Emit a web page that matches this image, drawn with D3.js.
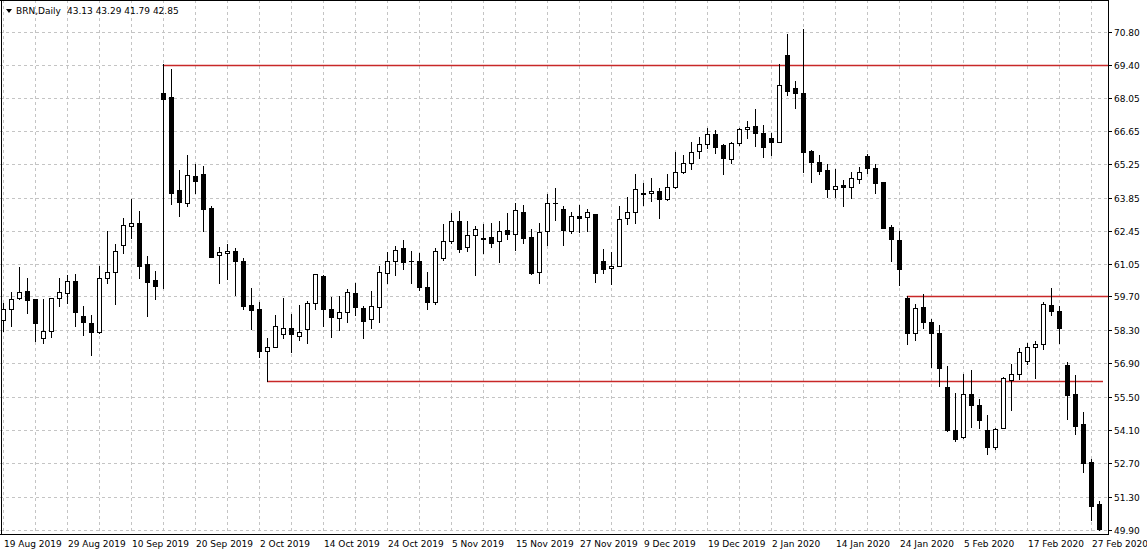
<!DOCTYPE html>
<html>
<head>
<meta charset="utf-8">
<script src="https://cdn.jsdelivr.net/npm/d3@7"></script>
<style>
html,body{margin:0;padding:0;background:#fff;}
svg{display:block;}
text{font-family:"DejaVu Sans",Verdana,sans-serif;font-size:9px;fill:#000;}
</style>
</head>
<body>
<svg id="chart" width="1147" height="554"></svg>
<script>
// ---- data (BRN, Daily) ----
const openV = [58.72,59.19,59.65,59.91,59.58,57.94,58.24,59.65,59.85,60.37,
58.87,58.57,58.20,60.47,60.73,61.86,62.66,62.79,61.07,60.40,
68.24,68.09,64.16,63.63,64.76,64.84,63.40,61.43,61.51,61.61,
61.18,59.35,59.16,57.43,57.60,58.11,58.37,58.06,58.32,59.44,
60.56,59.18,58.79,59.04,59.83,59.20,58.74,59.27,60.67,61.19,
61.72,61.20,61.19,60.09,59.46,61.33,62.04,62.86,61.76,62.27,
62.14,62.18,62.03,62.49,62.31,63.25,62.18,60.72,62.44,63.61,
63.36,62.45,63.08,63.02,63.16,61.19,60.88,60.98,62.98,63.23,
64.02,64.03,64.13,63.78,64.31,64.94,65.29,65.82,66.10,66.51,
66.06,65.46,66.16,66.72,66.86,66.55,66.37,66.20,69.84,68.44,
68.23,65.82,65.33,65.01,64.20,64.38,64.28,64.62,65.60,65.08,
64.49,62.60,62.07,59.65,58.18,59.27,58.64,58.18,55.91,54.09,
53.81,55.59,55.13,54.09,53.38,54.16,56.20,56.43,56.99,57.58,
57.70,59.35,59.07,56.81,55.61,54.34,52.75,51.00];
const highV = [59.43,59.88,60.92,60.47,59.60,59.61,59.65,60.47,60.62,60.65,
59.28,58.91,60.99,62.44,61.89,63.00,63.78,63.27,61.41,60.77,
69.45,69.25,65.01,65.64,65.26,65.18,63.50,61.77,61.89,61.72,
61.30,60.07,59.46,57.95,58.93,59.65,58.95,59.35,59.51,60.65,
60.60,59.67,59.70,60.00,60.28,59.30,59.95,61.00,61.58,61.82,
62.07,61.61,61.51,60.74,61.75,62.73,63.19,63.29,62.87,62.66,
62.74,62.80,62.87,63.19,63.64,63.56,62.52,62.80,64.00,64.25,
63.50,63.26,63.54,63.36,63.17,61.70,61.58,63.50,63.86,64.84,
64.48,64.66,64.24,64.83,65.75,65.64,66.20,66.38,66.76,66.69,
66.10,66.17,66.79,67.07,67.57,66.90,66.55,69.44,70.70,68.74,
70.91,65.84,65.64,65.26,65.05,64.59,64.94,65.12,65.68,65.26,
64.50,62.70,62.46,59.72,59.37,59.81,58.74,58.50,56.78,55.63,
56.46,56.60,55.41,54.71,54.17,56.31,56.88,57.54,57.73,57.85,
59.46,60.05,59.28,56.95,56.41,54.84,52.86,51.10];
const lowV = [58.24,58.46,59.58,59.01,57.82,57.75,58.02,59.28,59.43,58.46,
58.09,57.23,58.17,60.25,59.40,61.54,62.14,60.47,58.87,59.58,
60.06,63.57,63.08,63.48,64.03,62.45,61.35,60.28,60.44,59.76,
59.16,58.34,57.18,56.15,57.58,57.97,57.35,57.88,57.74,59.16,
58.46,57.99,58.30,58.62,58.93,57.95,58.39,58.62,60.25,60.60,
60.86,60.28,59.97,59.16,59.37,61.23,61.93,61.55,61.62,60.60,
61.54,61.79,61.16,62.12,61.65,61.93,60.65,60.25,61.86,62.91,
61.86,62.35,62.42,62.45,60.32,60.70,60.23,60.96,62.73,62.80,
63.54,63.72,62.98,63.76,64.27,64.87,65.05,65.53,65.95,65.71,
64.83,65.32,66.06,66.34,66.02,65.57,65.64,66.18,68.16,67.62,
64.91,64.52,64.83,63.89,63.89,63.51,63.85,64.45,64.90,64.03,
62.56,61.20,60.18,57.69,57.86,58.39,56.74,55.94,54.05,53.63,
53.77,54.22,54.16,53.10,53.28,54.16,54.95,56.22,56.85,56.29,
57.51,58.92,57.73,54.55,53.92,52.33,50.32,49.90];
const closeV = [59.16,59.61,59.88,59.55,58.57,58.24,59.62,59.88,60.37,59.03,
58.61,58.21,60.47,60.73,61.62,62.70,62.78,60.99,60.32,60.13,
67.99,64.04,63.67,64.79,64.56,63.39,61.37,61.55,61.61,61.18,
59.32,59.15,57.43,57.60,58.46,58.37,58.11,58.23,59.42,60.63,
59.16,58.83,59.04,59.90,59.25,58.69,59.32,60.72,61.19,61.65,
61.16,61.18,60.11,59.46,61.61,62.04,62.88,61.71,62.27,62.55,
62.10,61.96,62.46,62.31,63.33,62.17,60.67,62.41,63.61,63.63,
62.49,63.08,63.01,63.23,60.70,60.86,60.98,62.95,63.23,64.20,
64.04,64.13,63.78,64.28,64.93,65.29,65.78,66.09,66.51,65.99,
65.53,66.13,66.73,66.80,66.58,65.99,66.20,68.56,68.34,68.25,
65.78,65.36,64.98,64.20,64.35,64.28,64.66,64.94,65.11,64.45,
62.59,62.10,60.84,58.18,59.23,58.64,58.18,56.71,54.09,53.74,
55.62,55.14,54.51,53.38,54.15,56.29,56.43,57.37,57.58,57.71,
59.38,59.07,58.36,55.57,54.27,52.72,50.92,49.93];

// date labels, one every 8 bars starting at bar 0
const dateLabels = ["19 Aug 2019","29 Aug 2019","10 Sep 2019","20 Sep 2019","2 Oct 2019",
"14 Oct 2019","24 Oct 2019","5 Nov 2019","15 Nov 2019","27 Nov 2019","9 Dec 2019",
"19 Dec 2019","2 Jan 2020","14 Jan 2020","24 Jan 2020","5 Feb 2020","17 Feb 2020","27 Feb 2020"];
const dateLabelBars = [0,8,16,24,32,40,48,56,64,72,80,88,96,104,112,120,128,136];

// price axis labels
const priceTicks = [70.80,69.40,68.05,66.65,65.25,63.85,62.45,61.05,59.70,58.30,56.90,55.50,54.10,52.70,51.30,49.90];

// horizontal level lines (red)
const levelPrices = [69.40, 56.17, 59.70];
const levelStartBars = [20, 33, 113];
const levelEndBars = [139, 137.5, 139];

const headerText = "BRN,Daily";
const headerValues = "43.13 43.29 41.79 42.85";

// ---- drawing ----
const W = 1147, H = 554;
const plotRight = 1108, plotBottom = 534;
const svg = d3.select("#chart");
svg.append("rect").attr("width",W).attr("height",H).attr("fill","#fff");

const nBars = openV.length;
const x = d3.scaleLinear().domain([0, nBars-1]).range([3, 3 + 8*(nBars-1)]);
const y = d3.scaleLinear().domain([49.90, 70.80]).range([530, 32]);
const px = v => Math.round(x(v));
const py = v => Math.round(y(v));

svg.append("defs").append("clipPath").attr("id","plotClip")
  .append("rect").attr("x",0).attr("y",0).attr("width",plotRight).attr("height",plotBottom);

const grid = svg.append("g").attr("clip-path","url(#plotClip)");
// horizontal gridlines
grid.selectAll("line.hg").data(priceTicks).enter().append("line").attr("class","hg")
  .attr("x1",0).attr("x2",plotRight)
  .attr("y1",d=>py(d)+0.5).attr("y2",d=>py(d)+0.5)
  .attr("stroke","#c4c4c4").attr("stroke-width",1).attr("stroke-dasharray","3,3");
// vertical gridlines every 4 bars
const vBars = d3.range(0, nBars, 4);
grid.selectAll("line.vg").data(vBars).enter().append("line").attr("class","vg")
  .attr("x1",d=>px(d)+0.5).attr("x2",d=>px(d)+0.5)
  .attr("y1",0).attr("y2",plotBottom)
  .attr("stroke","#c4c4c4").attr("stroke-width",1).attr("stroke-dasharray","3,3");

// level lines
svg.append("g").attr("clip-path","url(#plotClip)")
  .selectAll("line.lv").data(levelPrices).enter().append("line").attr("class","lv")
  .attr("x1",(d,i)=>px(levelStartBars[i]))
  .attr("x2",(d,i)=>Math.min(plotRight, x(levelEndBars[i])))
  .attr("y1",d=>py(d)+0.5).attr("y2",d=>py(d)+0.5)
  .style("stroke","rgb(200,40,40)").style("stroke-width","1.3px").style("stroke-opacity",1);

// candles
const idx = d3.range(nBars);
const cg = svg.append("g").attr("clip-path","url(#plotClip)");
cg.selectAll("line.wick").data(idx).enter().append("line").attr("class","wick")
  .attr("x1",i=>px(i)+0.5).attr("x2",i=>px(i)+0.5)
  .attr("y1",i=>py(highV[i])).attr("y2",i=>py(lowV[i])+1)
  .attr("stroke","#000").attr("stroke-width",1);
cg.selectAll("rect.body").data(idx).enter().append("rect").attr("class","body")
  .each(function(i){
    const o = py(openV[i]), c = py(closeV[i]);
    const bull = closeV[i] >= openV[i];
    const top = Math.min(o,c), bot = Math.max(o,c);
    const s = d3.select(this);
    if (bull) {
      s.attr("x", px(i)-1.5).attr("y", top+0.5)
       .attr("width",4).attr("height",Math.max(0.001,bot-top))
       .attr("fill","#fff").attr("stroke","#000").attr("stroke-width",1);
    } else {
      s.attr("x", px(i)-2).attr("y", top)
       .attr("width",5).attr("height",Math.max(1,bot-top+1))
       .attr("fill","#000");
    }
  });

// frame
svg.append("line").attr("x1",plotRight+0.5).attr("x2",plotRight+0.5).attr("y1",0).attr("y2",plotBottom+1)
  .attr("stroke","#000");
svg.append("line").attr("x1",0).attr("x2",plotRight+1).attr("y1",plotBottom+0.5).attr("y2",plotBottom+0.5)
  .attr("stroke","#000");
svg.append("line").attr("x1",1.5).attr("x2",1.5).attr("y1",0).attr("y2",plotBottom)
  .attr("stroke","#000");
svg.append("line").attr("x1",0).attr("x2",plotRight).attr("y1",0.5).attr("y2",0.5)
  .attr("stroke","#000");

// price axis
const ya = svg.append("g");
ya.selectAll("line").data(priceTicks).enter().append("line")
  .attr("x1",plotRight+1).attr("x2",plotRight+4)
  .attr("y1",d=>py(d)+0.5).attr("y2",d=>py(d)+0.5).attr("stroke","#000");
ya.selectAll("text").data(priceTicks).enter().append("text")
  .attr("x",plotRight+6).attr("y",d=>py(d)+3.5)
  .text(d=>d.toFixed(2));

// date axis
const xa = svg.append("g");
xa.selectAll("text").data(dateLabels).enter().append("text")
  .attr("x",(d,i)=>px(dateLabelBars[i])+1).attr("y",547)
  .text(d=>d);

// header
svg.append("path").attr("d","M6,9 L12,9 L9,13 Z").attr("fill","#000");
svg.append("text").attr("x",16).attr("y",14).text(headerText);
svg.append("text").attr("x",67).attr("y",14).text(headerValues);
</script>
</body>
</html>
